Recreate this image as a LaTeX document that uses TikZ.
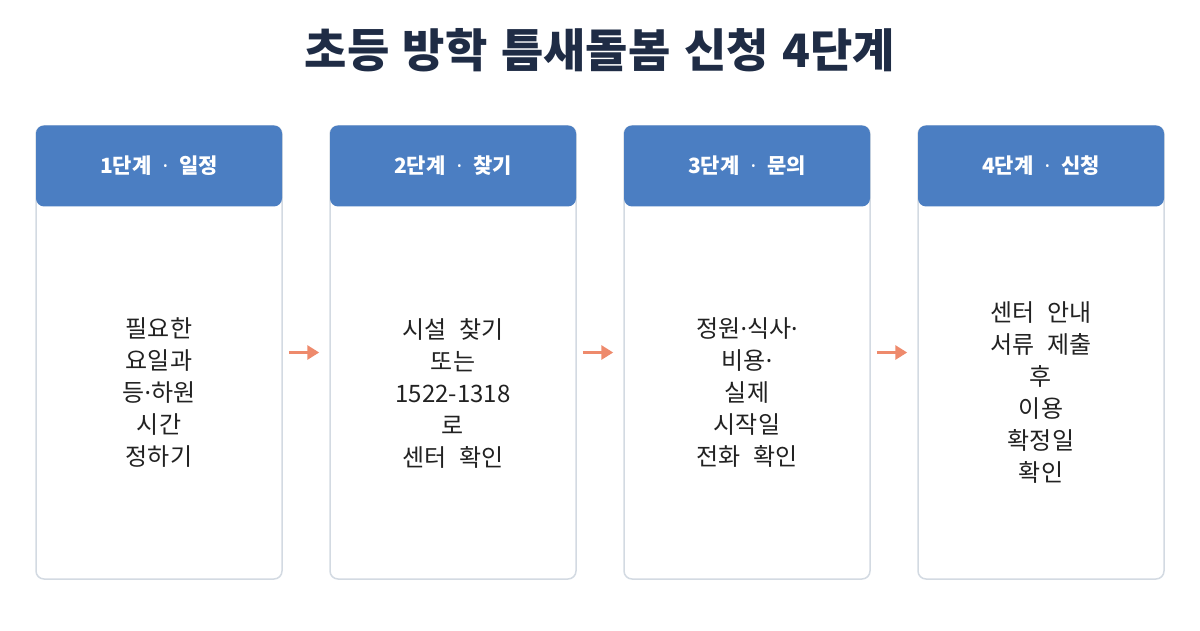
\documentclass[tikz,border=0pt]{standalone}
\usepackage{fontspec}
\setmainfont{Noto Sans CJK KR}[WordSpace=2.3]
\newfontfamily\titlefont{Noto Sans CJK KR}[WordSpace=1.3]
\newfontfamily\dotfont{Noto Sans}
\newcommand\mdot{{\dotfont ·}}
\usetikzlibrary{arrows.meta}

\definecolor{titlenavy}{HTML}{1F2C45}
\definecolor{headblue}{HTML}{4B7EC2}
\definecolor{framegray}{HTML}{D3DAE2}
\definecolor{flowsalmon}{HTML}{EE8A6C}
\definecolor{bodyink}{HTML}{222222}

\tikzset{
  panel/.style={draw=framegray, line width=1.5pt, fill=white, rounded corners=8pt,
    minimum width=246pt, minimum height=453pt, inner sep=0pt},
  headbox/.style={fill=headblue, rounded corners=8pt, minimum width=246pt,
    minimum height=81pt, inner sep=0pt, text=white,
    font=\fontsize{21}{24}\selectfont\bfseries},
  bodytext/.style={align=center, text=bodyink, font=\fontsize{24}{32}\selectfont},
  flow/.style={draw=flowsalmon, line width=3pt,
    -{Triangle[length=12pt,width=14pt]}}
}

\begin{document}
\begin{tikzpicture}[x=1pt, y=-1pt, line join=round]
  \useasboundingbox (0,0) rectangle (1200,630);

  % Title
  \node[font=\titlefont\fontsize{46}{50}\selectfont\bfseries, text=titlenavy] (title) at (600,50)
    {초등 방학 틈새돌봄 신청 4단계};

  % Steps
  \foreach \i/\x/\head/\body in {
      1/159/{1단계 \mdot{} 일정}/{필요한\\요일과\\등\mdot{}하원\\시간\\정하기},
      2/453/{2단계 \mdot{} 찾기}/{시설 찾기\\또는\\1522-1318\\로\\센터 확인},
      3/747/{3단계 \mdot{} 문의}/{정원\mdot{}식사\mdot\\비용\mdot\\실제\\시작일\\전화 확인},
      4/1041/{4단계 \mdot{} 신청}/{센터 안내\\서류 제출\\후\\이용\\확정일\\확인}} {
    \node[panel] (p\i) at (\x,352.5) {};
    \node[headbox, anchor=north] (h\i) at (p\i.north) {\head};
    \node[bodytext] (t\i) at (\x,393) {\body};
  }

  % Arrows between steps
  \foreach \a/\b in {1/2,2/3,3/4}
    \draw[flow] ([xshift=6pt]p\a.east) -- ([xshift=-10pt]p\b.west);
\end{tikzpicture}
\end{document}
